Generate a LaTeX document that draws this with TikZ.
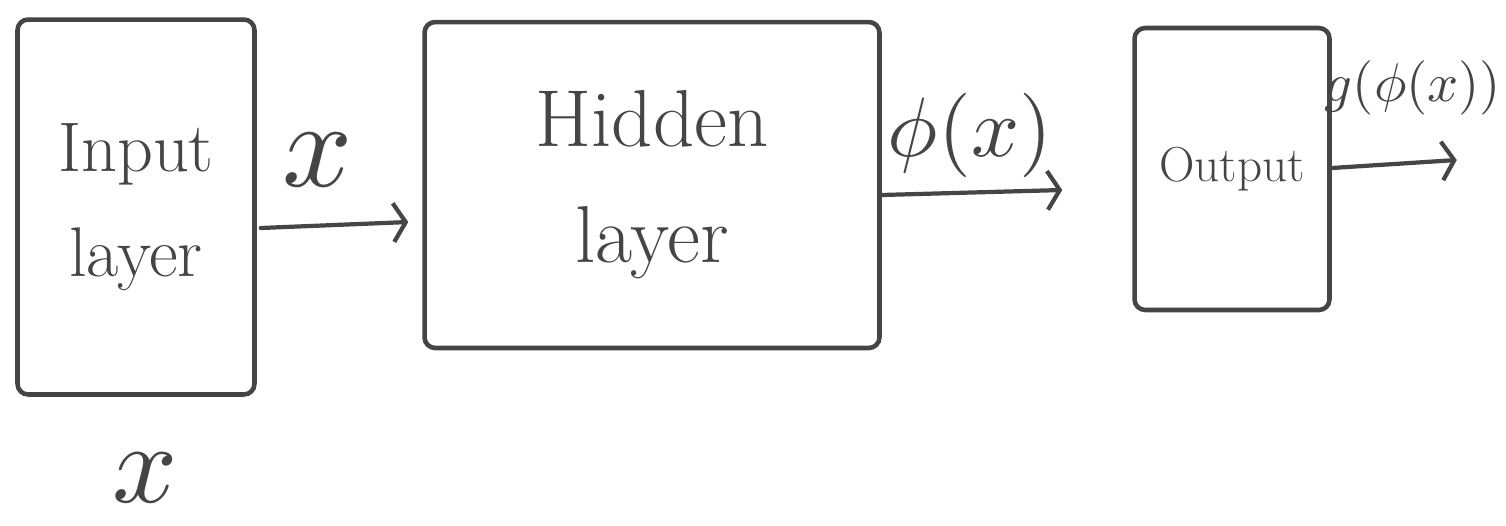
\documentclass[tikz,border=0pt]{standalone}
\usetikzlibrary{arrows.meta,calc}
\definecolor{ink}{HTML}{454545}
\tikzset{
  layerbox/.style={draw=ink, line width=2.6pt, rounded corners=6pt, inner sep=0pt, align=center, text=ink},
  flow/.style={draw=ink, line width=2.4pt, line cap=round, -{Straight Barb[length=7pt,width=22pt,line width=2.4pt]}},
  lbl/.style={text=ink, inner sep=0pt}
}
\begin{document}
\begin{tikzpicture}[x=0.02cm,y=-0.02cm]
\useasboundingbox (0,0) rectangle (1506,525);

% the three layers
\node[layerbox, minimum width=4.74cm, minimum height=7.5cm,
      font=\fontsize{40}{60}\selectfont] (in) at (136,207) {Input\\layer};
\node[layerbox, minimum width=9.1cm, minimum height=6.52cm,
      font=\fontsize{46}{66}\selectfont] (hid) at (652,185) {Hidden\\layer};
\node[layerbox, minimum width=3.9cm, minimum height=5.64cm,
      font=\fontsize{28}{34}\selectfont] (out) at (1232,169) {Output};

% input vector under the input layer
\node[lbl, scale=6.5] (xin) at (145,478) {$x$};

% connectors between the layers
\coordinate (gend) at ($(out.east)+(125,-9)$);
\draw[flow] ($(in.east)+(4,21)$) -- ($(hid.west)+(-14,37)$);
\draw[flow] ($(hid.east)+(0,10)$) -- ($(out.west)+(-70,21)$);
\draw[flow] ($(out.east)+(0,-1)$) -- (gend);

% connector labels
\node[lbl, scale=7] (lx) at (318,160) {$x$};
\node[lbl, scale=4.8] (lphi) at (970,135) {$\phi(x)$};
\node[lbl, scale=3.1] (lg) at (1413,88) {$g(\phi(x))$};
\end{tikzpicture}
\end{document}
